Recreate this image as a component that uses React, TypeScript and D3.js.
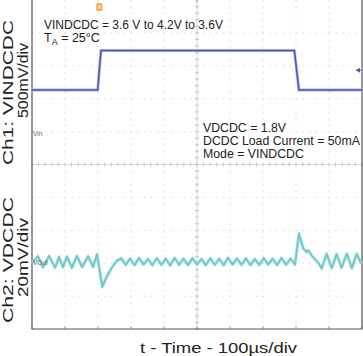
import React from "react";
import * as d3 from "d3";

const W = 363;
const H = 356;

// Time axis: 10 divisions of 100 µs
const timeDomain = [0, 1000];
const divisions = [0, 1, 2, 3, 4, 5, 6, 7, 8, 9, 10];

// Ch1: VINDCDC (V), 500 mV/div
const ch1Time = [0, 199, 209, 795, 809, 1000];
const ch1Volt = [3.6, 3.6, 4.2, 4.2, 3.6, 3.6];
const ch1Domain = [-0.032, 4.968];

// Ch2: VDCDC deviation from 1.8 V (mV), 20 mV/div
const ch2Time = [
  0, 18, 33, 52, 70, 82, 94, 106, 121, 136, 152, 170, 185, 197, 213, 226, 241, 257,
  270, 284, 297, 311, 324, 338, 351, 365, 378, 392, 405, 419, 432, 446, 459, 473, 486,
  500, 513, 527, 540, 554, 567, 581, 594, 608, 621, 635, 648, 662, 675, 689, 702, 716,
  729, 743, 756, 770, 783, 797, 809, 822, 832, 837, 847, 869, 878, 893, 908, 923, 938,
  954, 969, 984, 997,
];
const ch2DeltaMv = [
  -0.8, 3.6, -3.2, 3.8, -3.4, 3.2, -3.0, 3.4, -3.4, 3.8, -3.0, 3.6, -2.8, 4.8, -15.0, -8.9, -3.6, 0.8,
  2.4, -1.6, 2.2, -1.8, 2.6, -1.4, 2.0, -1.8, 2.4, -1.6, 2.2, -2.0, 2.6, -1.6, 2.2, -1.8, 2.4,
  -1.4, 2.0, -1.8, 2.4, -1.6, 2.2, -1.8, 2.6, -1.4, 2.2, -1.6, 2.4, -1.8, 2.0, -1.6, 2.4, -1.4,
  2.2, -1.8, 2.6, -1.6, 2.2, -1.4, 17.4, 8.3, 6.2, 7.3, 4.2, -0.8, -3.8, 5.2, -3.6, 5.0, -3.4,
  5.2, -3.6, 5.0, -0.6,
];
const ch2Domain = [-40.6, 159.4];

const titleLine1 = "VINDCDC = 3.6 V to 4.2V to 3.6V";
const notes = ["VDCDC = 1.8V", "DCDC Load Current = 50mA", "Mode = VINDCDC"];
const ch1Label = "Ch1: VINDCDC";
const ch1Scale = "500mV/div";
const ch2Label = "Ch2: VDCDC";
const ch2Scale = "20mV/div";
const xLabel = "t - Time - 100\u00b5s/div";

const L = 32, R = 362, T = 0, B = 329;

export default function App() {
  const x = d3.scaleLinear().domain(timeDomain).range([L, R]);
  const gx = d3.scaleLinear().domain([0, 10]).range([L, R]);
  const gy = d3.scaleLinear().domain([0, 10]).range([T, B]);
  const y1 = d3.scaleLinear().domain(ch1Domain).range([B, T]);
  const y2 = d3.scaleLinear().domain(ch2Domain).range([B, T]);

  const line1 = d3.line<number>().x((_, i) => x(ch1Time[i])).y((v) => y1(v));
  const line2 = d3
    .line<number>()
    .x((_, i) => x(ch2Time[i]))
    .y((v) => y2(v))
    .curve(d3.curveLinear);

  const cx = gx(5);
  const cy = gy(5);
  const minor = d3.range(0, 51).map((i) => i / 5);

  const font = "Liberation Sans, Arial, Helvetica, sans-serif";

  return (
    <svg width={W} height={H} style={{ position: "absolute", left: 0, top: 0, background: "#fff" }} fontFamily={font}>
      <rect x={0} y={0} width={W} height={H} fill="#fff" />
      {/* dotted grid */}
      {divisions.slice(1, 10).map((d) => (
        <line key={"v" + d} x1={gx(d)} x2={gx(d)} y1={T} y2={B} stroke="#c8c8c8" strokeWidth={1} strokeDasharray="1,5.58" />
      ))}
      {divisions.slice(1, 10).map((d) => (
        <line key={"h" + d} x1={L} x2={R} y1={gy(d)} y2={gy(d)} stroke="#c8c8c8" strokeWidth={1} strokeDasharray="1,5.6" />
      ))}
      {/* center lines */}
      <line x1={L} x2={R} y1={cy} y2={cy} stroke="#d6d6d6" strokeWidth={1} />
      <line x1={cx} x2={cx} y1={T} y2={B} stroke="#d6d6d6" strokeWidth={1} />
      {minor.map((m) => (
        <line key={"mx" + m} x1={gx(m)} x2={gx(m)} y1={cy - 2} y2={cy + 2} stroke="#c4c4c4" strokeWidth={1} />
      ))}
      {minor.map((m) => (
        <line key={"my" + m} x1={cx - 2} x2={cx + 2} y1={gy(m)} y2={gy(m)} stroke="#c4c4c4" strokeWidth={1} />
      ))}
      {divisions.map((d) => (
        <line key={"bt" + d} x1={gx(d)} x2={gx(d)} y1={B - 3} y2={B} stroke="#999" strokeWidth={1} />
      ))}
      {/* frame */}
      <path d={`M${L},${T}V${B}H${R}V${T}`} fill="none" stroke="#555" strokeWidth={1.2} />

      {/* traces */}
      <path d={line1(ch1Volt) || ""} fill="none" stroke="#a4acde" strokeWidth={2.8} />
      <path d={line1(ch1Volt) || ""} fill="none" stroke="#4a5cc0" strokeWidth={1.5} />
      <path d={line2(ch2DeltaMv) || ""} fill="none" stroke="#b2e1e2" strokeWidth={3.2} strokeLinejoin="round" />
      <path d={line2(ch2DeltaMv) || ""} fill="none" stroke="#6cc8ca" strokeWidth={1.6} strokeLinejoin="round" />

      {/* markers */}
      <rect x={x(204) - 3} y={3} width={6} height={8} rx={1.5} fill="#f0a84a" />
      <rect x={x(204) - 1.5} y={5} width={3} height={4} fill="#fbd9a0" />
      <line x1={cx} x2={cx} y1={0} y2={3} stroke="#f0a84a" strokeWidth={1} />
      <path d={`M${R - 6},${y1(3.9)}l4,-2.5v5z`} fill="#3f55c0" />
      <line x1={R - 6} x2={R - 1} y1={y1(3.9)} y2={y1(3.9)} stroke="#3f55c0" strokeWidth={1} />

      <text x={L + 1} y={136} fontSize={6.5} fill="#666">Vin</text>
      <text x={L + 1} y={265} fontSize={6.5} fill="#666">VOut</text>

      {/* annotations */}
      <text x={44} y={29} fontSize={13.2} textLength={179} lengthAdjust="spacingAndGlyphs" fill="#222">{titleLine1}</text>
      <text x={44} y={42} fontSize={12.5} fill="#222">
        T<tspan fontSize={9} dy={3}>A</tspan>
        <tspan dy={-3}> = 25°C</tspan>
      </text>
      {notes.map((n, i) => (
        <text key={n} x={203} y={132 + i * 13.2} fontSize={12.3} fill="#222">{n}</text>
      ))}

      {/* axis labels */}
      <text transform={`translate(13.2,92.5) rotate(-90)`} textAnchor="middle" fontSize={14} textLength={145} lengthAdjust="spacingAndGlyphs" fill="#222">{ch1Label}</text>
      <text transform={`translate(28,80.5) rotate(-90)`} textAnchor="middle" fontSize={15} textLength={75} lengthAdjust="spacingAndGlyphs" fill="#222">{ch1Scale}</text>
      <text transform={`translate(13.2,260) rotate(-90)`} textAnchor="middle" fontSize={14} textLength={126} lengthAdjust="spacingAndGlyphs" fill="#222">{ch2Label}</text>
      <text transform={`translate(28,257.5) rotate(-90)`} textAnchor="middle" fontSize={15} textLength={79} lengthAdjust="spacingAndGlyphs" fill="#222">{ch2Scale}</text>
      <text x={140} y={353} fontSize={15} textLength={157} lengthAdjust="spacingAndGlyphs" fill="#222">{xLabel}</text>
    </svg>
  );
}
